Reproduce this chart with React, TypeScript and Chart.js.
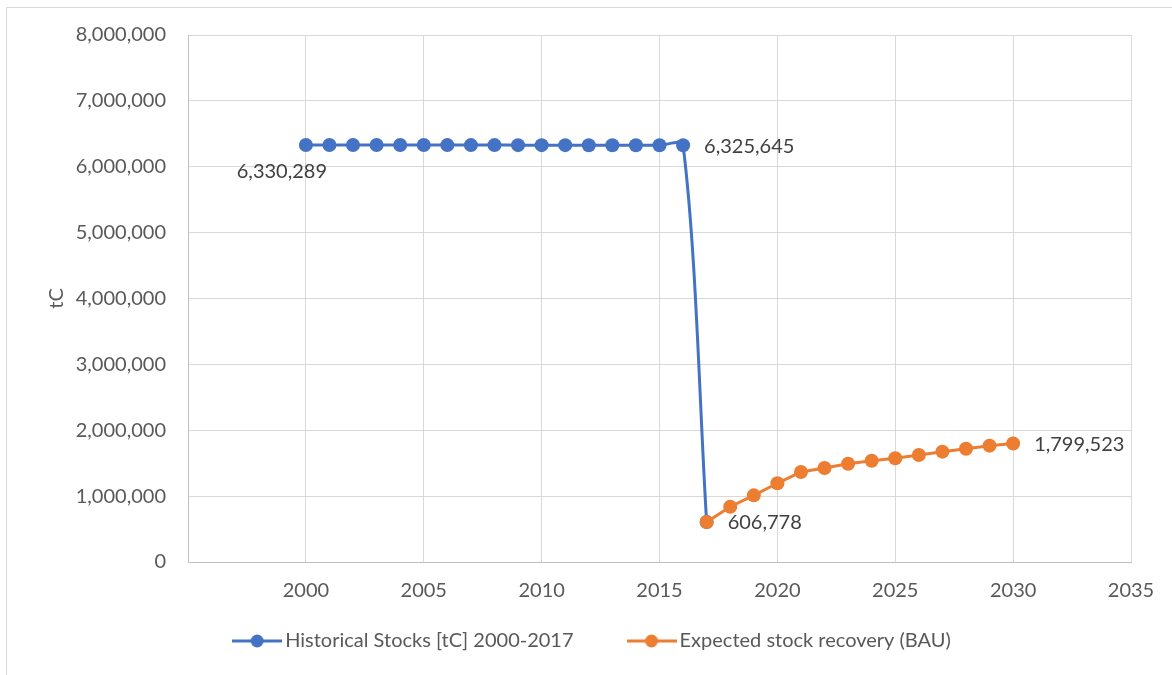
import { useEffect, useRef } from 'react';
import { Chart, registerables } from 'chart.js';

Chart.register(...registerables);

const historicalYears = [2000, 2001, 2002, 2003, 2004, 2005, 2006, 2007, 2008, 2009, 2010, 2011, 2012, 2013, 2014, 2015, 2016, 2017];
const historicalStocks = [6330289, 6330000, 6330000, 6329700, 6329500, 6329200, 6329000, 6328700, 6328500, 6328200, 6328000, 6327700, 6327400, 6327000, 6326600, 6326200, 6325645, 606778];

const recoveryYears = [2017, 2018, 2019, 2020, 2021, 2022, 2023, 2024, 2025, 2026, 2027, 2028, 2029, 2030];
const recoveryStocks = [606778, 839000, 1012000, 1195000, 1366000, 1427000, 1492000, 1538000, 1574000, 1624000, 1675000, 1720000, 1766000, 1799523];

const seriesNames = ['Historical Stocks [tC] 2000-2017', 'Expected stock recovery (BAU)'];
const seriesColors = ['#4472C4', '#ED7D31'];

const xMin = 1995;
const xMax = 2035;
const xStep = 5;
const yMin = 0;
const yMax = 8000000;
const yStep = 1000000;
const yTitle = 'tC';

// which points carry a value label: [dataset, index, placement]
const labeledPoints: [number, number, 'belowLeft' | 'right'][] = [
  [0, 0, 'belowLeft'],
  [0, 16, 'right'],
  [1, 0, 'right'],
  [1, 13, 'right'],
];

const FONT = 'Lato';
const fmt = (v: number) => v.toLocaleString('en-US');

function makeMarker(color: string) {
  const c = document.createElement('canvas');
  c.width = 50;
  c.height = 16;
  const g = c.getContext('2d')!;
  g.strokeStyle = color;
  g.lineWidth = 3;
  g.beginPath();
  g.moveTo(0, 8);
  g.lineTo(50, 8);
  g.stroke();
  g.fillStyle = color;
  g.beginPath();
  g.arc(25, 8, 6.5, 0, Math.PI * 2);
  g.fill();
  return c;
}

const labelPlugin = {
  id: 'pointValueLabels',
  afterLayout(chart: any) {
    // give the x tick labels room below the thin axis box (the legend sits close underneath)
    const s = chart.scales.x;
    s.bottom = s.top + 50;
  },
  afterDatasetsDraw(chart: any) {
    const ctx = chart.ctx;
    ctx.save();
    ctx.font = `20px ${FONT}`;
    ctx.fillStyle = '#404040';
    ctx.textBaseline = 'middle';
    labeledPoints.forEach(([ds, idx, place]) => {
      const el = chart.getDatasetMeta(ds).data[idx];
      const v = chart.data.datasets[ds].data[idx].y;
      const text = fmt(v);
      if (place === 'belowLeft') {
        ctx.textAlign = 'center';
        ctx.fillText(text, el.x - 24, el.y + 27);
      } else {
        ctx.textAlign = 'left';
        ctx.fillText(text, el.x + 21, el.y + 1);
      }
    });
    ctx.restore();
  },
};

export default function App() {
  const ref = useRef<HTMLCanvasElement | null>(null);

  useEffect(() => {
    if (!ref.current) return;
    const markers = seriesColors.map(makeMarker);
    const chart = new Chart(ref.current, {
      type: 'line',
      data: {
        datasets: [
          {
            label: seriesNames[0],
            data: historicalYears.map((x, i) => ({ x, y: historicalStocks[i] })),
            borderColor: seriesColors[0],
            backgroundColor: seriesColors[0],
            borderWidth: 3,
            pointRadius: 7,
            pointBorderWidth: 0,
            tension: 0.3,
            order: 1,
          },
          {
            label: seriesNames[1],
            data: recoveryYears.map((x, i) => ({ x, y: recoveryStocks[i] })),
            borderColor: seriesColors[1],
            backgroundColor: seriesColors[1],
            borderWidth: 3,
            pointRadius: 7,
            pointBorderWidth: 0,
            tension: 0,
            order: 0,
          },
        ],
      },
      options: {
        responsive: false,
        animation: false,
        layout: { padding: { left: 18, right: 0, top: 35, bottom: 14 } },
        plugins: {
          tooltip: { enabled: false },
          legend: {
            position: 'bottom',
            labels: {
              usePointStyle: true,
              pointStyleWidth: 36,
              padding: 60,
              color: '#595959',
              font: { family: FONT, size: 20 },
              sort: (a: any, b: any) => a.datasetIndex - b.datasetIndex,
              generateLabels: (c: any) => {
                const items = (Chart.defaults.plugins.legend.labels as any).generateLabels(c);
                items.forEach((it: any) => {
                  it.pointStyle = markers[it.datasetIndex];
                });
                return items;
              },
            },
          },
        },
        scales: {
          x: {
            type: 'linear',
            min: xMin,
            max: xMax,
            afterFit: (s: any) => {
              s.height = 9;
            },
            ticks: {
              stepSize: xStep,
              padding: 17,
              color: '#595959',
              font: { family: FONT, size: 20 },
              callback: (v: any) => (v === xMin ? '' : String(v)),
            },
            grid: { color: '#d9d9d9', lineWidth: 1, drawTicks: false },
            border: { color: '#bfbfbf', width: 1 },
          },
          y: {
            type: 'linear',
            min: yMin,
            max: yMax,
            afterFit: (s: any) => {
              s.width = 170;
            },
            title: {
              display: true,
              text: yTitle,
              color: '#595959',
              font: { family: FONT, size: 20 },
              padding: { top: 27, bottom: 0 },
            },
            ticks: {
              stepSize: yStep,
              padding: 22,
              color: '#595959',
              font: { family: FONT, size: 20 },
              callback: (v: any) => fmt(Number(v)),
            },
            grid: { color: '#d9d9d9', lineWidth: 1, drawTicks: false },
            border: { color: '#bfbfbf', width: 1 },
          },
          y2: {
            type: 'linear',
            position: 'right',
            display: true,
            afterFit: (s: any) => {
              s.width = 41;
            },
            ticks: { display: false },
            grid: { display: false, drawTicks: false },
            border: { display: false },
          },
        },
      },
      plugins: [labelPlugin],
    } as any);
    return () => chart.destroy();
  }, []);

  return (
    <div style={{ position: 'fixed', left: 0, top: 0, width: 1172, height: 675, overflow: 'hidden', background: '#fff' }}>
      <div
        style={{
          position: 'absolute',
          left: 6,
          top: 7,
          width: 1200,
          height: 700,
          borderLeft: '1px solid #d9d9d9',
          borderTop: '1px solid #d9d9d9',
        }}
      />
      <canvas ref={ref} width={1172} height={675} style={{ position: 'absolute', left: 0, top: 0, display: 'block' }} />
    </div>
  );
}
